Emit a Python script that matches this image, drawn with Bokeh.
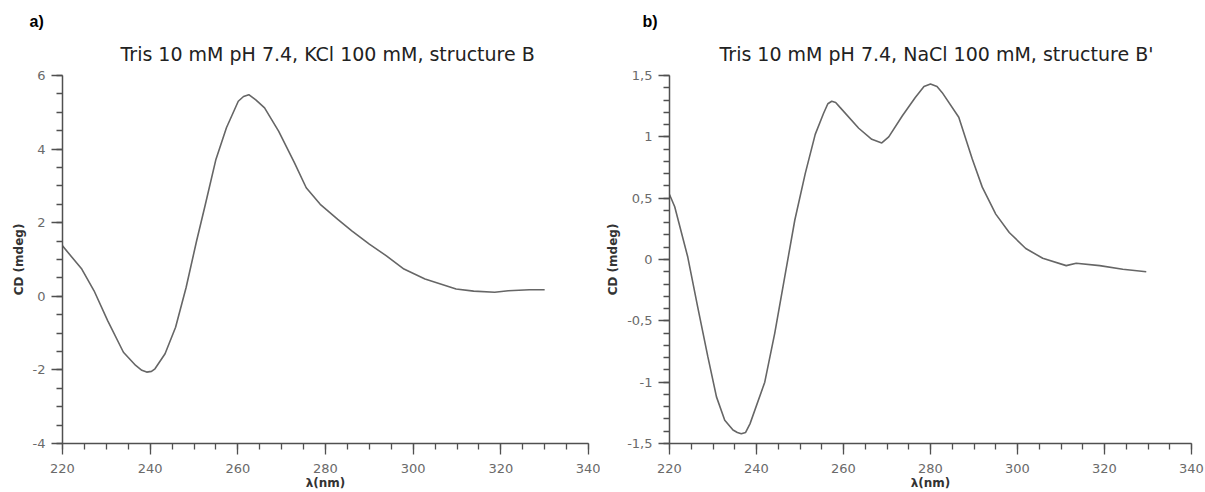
from bokeh.plotting import figure
from bokeh.layouts import row
from bokeh.models import FixedTicker, Title, Range1d
from bokeh.embed import file_html
from bokeh.resources import INLINE

# ---- data ----
wl_a = [220, 224.4, 227.2, 230.3, 233.9, 236.7, 238.1, 239.2, 240.3, 241.1, 243.4, 245.8,
        248.2, 250.6, 252.6, 255, 257.4, 260.1, 261.3, 262.5, 264.1, 266.1, 269.3, 272.9,
        275.6, 278.8, 282.8, 286, 290, 293.9, 297.9, 302.7, 309.8, 313.8, 318.6, 321.7,
        326.5, 330]
cd_a = [1.37, 0.74, 0.15, -0.66, -1.52, -1.88, -2.01, -2.06, -2.04, -1.97, -1.56, -0.84,
        0.24, 1.51, 2.5, 3.72, 4.58, 5.3, 5.43, 5.48, 5.34, 5.12, 4.49, 3.63,
        2.95, 2.5, 2.09, 1.78, 1.42, 1.1, 0.74, 0.47, 0.2, 0.14, 0.11, 0.15,
        0.18, 0.18]

wl_b = [220, 221.2, 224.2, 226.5, 228.8, 230.8, 232.7, 234.6, 235.6, 236.5, 237.5, 238.5,
        241.9, 244.2, 246.5, 248.8, 251.2, 253.5, 255.4, 256.4, 257.3, 258.2, 259.2, 263.5,
        266.5, 268.8, 270.4, 273.5, 276.5, 278.5, 280, 281.5, 282.7, 286.5, 289.6, 291.9,
        295, 298.1, 301.9, 305.8, 311.2, 313.5, 318.9, 324.2, 329.6]
cd_b = [0.53, 0.43, 0.02, -0.39, -0.79, -1.12, -1.31, -1.39, -1.41, -1.42, -1.41, -1.34,
        -1.0, -0.6, -0.14, 0.32, 0.7, 1.02, 1.19, 1.27, 1.29, 1.28, 1.24, 1.07,
        0.98, 0.95, 1.0, 1.17, 1.32, 1.41, 1.43, 1.41, 1.36, 1.16, 0.82, 0.59,
        0.37, 0.22, 0.09, 0.01, -0.05, -0.03, -0.05, -0.08, -0.10]

x_ticks = [220, 240, 260, 280, 300, 320, 340]
x_minor = [220 + 5 * i for i in range(25)]
ya_ticks = [-4, -2, 0, 2, 4, 6]
ya_labels = {-4: "-4", -2: "-2", 0: "0", 2: "2", 4: "4", 6: "6"}
ya_minor = [-4 + 0.5 * i for i in range(21)]
yb_ticks = [-1.5, -1, -0.5, 0, 0.5, 1, 1.5]
yb_labels = {-1.5: "-1,5", -1: "-1", -0.5: "-0,5", 0: "0", 0.5: "0,5", 1: "1", 1.5: "1,5"}
yb_minor = [-1.5 + 0.1 * i for i in range(31)]

title_a = "Tris 10 mM pH 7.4, KCl 100 mM, structure B"
title_b = "Tris 10 mM pH 7.4, NaCl 100 mM, structure B'"

AXIS_COLOR = "#505050"
LABEL_COLOR = "#6a6a6a"
LINE_COLOR = "#666666"


def make_panel(width, bl, br, title, title_off, tag, tag_off, ylab_standoff,
               x, y, yr, yt, yminor, ylabels):
    p = figure(width=width, height=492, output_backend="svg", toolbar_location=None,
               x_range=Range1d(220, 340), y_range=Range1d(*yr),
               min_border_left=bl, min_border_right=br, min_border_top=75,
               min_border_bottom=49)
    # outermost title: panel tag
    p.title.text = tag
    p.title.align = "left"
    p.title.offset = tag_off
    p.title.text_font = "Liberation Sans"
    p.title.text_font_size = "16px"
    p.title.text_font_style = "bold"
    p.title.text_color = "#000000"
    p.title.standoff = 0
    # main title, closest to the frame
    p.add_layout(Title(text=title, align="left", offset=title_off, text_font="DejaVu Sans",
                       text_font_size="19px", text_font_style="normal", text_color="#222222",
                       standoff=22), "above")
    p.outline_line_color = None
    p.xgrid.visible = False
    p.ygrid.visible = False
    p.line(x, y, line_color=LINE_COLOR, line_width=1.6)

    for ax in (p.xaxis[0], p.yaxis[0]):
        ax.axis_line_color = AXIS_COLOR
        ax.axis_line_width = 1.5
        ax.major_tick_line_color = AXIS_COLOR
        ax.minor_tick_line_color = AXIS_COLOR
        ax.major_tick_line_width = 1.3
        ax.minor_tick_line_width = 1.3
        ax.major_tick_in = 0
        ax.major_tick_out = 11
        ax.minor_tick_in = 0
        ax.minor_tick_out = 6
        ax.major_label_text_font = "DejaVu Sans"
        ax.major_label_text_font_size = "13px"
        ax.major_label_text_color = LABEL_COLOR
        ax.axis_label_text_font = "DejaVu Sans"
        ax.axis_label_text_font_size = "12px"
        ax.axis_label_text_font_style = "bold"
        ax.axis_label_text_color = "#333333"

    p.xaxis.ticker = FixedTicker(ticks=x_ticks, minor_ticks=x_minor)
    p.xaxis.axis_label = "λ(nm)"
    p.xaxis.major_label_standoff = 9
    p.xaxis.axis_label_standoff = 0
    p.yaxis.ticker = FixedTicker(ticks=yt, minor_ticks=yminor)
    p.yaxis.axis_label = "CD (mdeg)"
    p.yaxis.major_label_standoff = 6
    p.yaxis.axis_label_standoff = ylab_standoff
    p.yaxis.major_label_overrides = ylabels
    return p


pa = make_panel(600, 62, 12, title_a, 58, "a)", -33, 4, wl_a, cd_a, (-4, 6),
                ya_ticks, ya_minor, ya_labels)
pb = make_panel(605, 69, 14, title_b, 50, "b)", -27, 4, wl_b, cd_b, (-1.5, 1.5),
                yb_ticks, yb_minor, yb_labels)

layout = row(pa, pb)
open("out.html", "w").write(file_html(layout, INLINE))
